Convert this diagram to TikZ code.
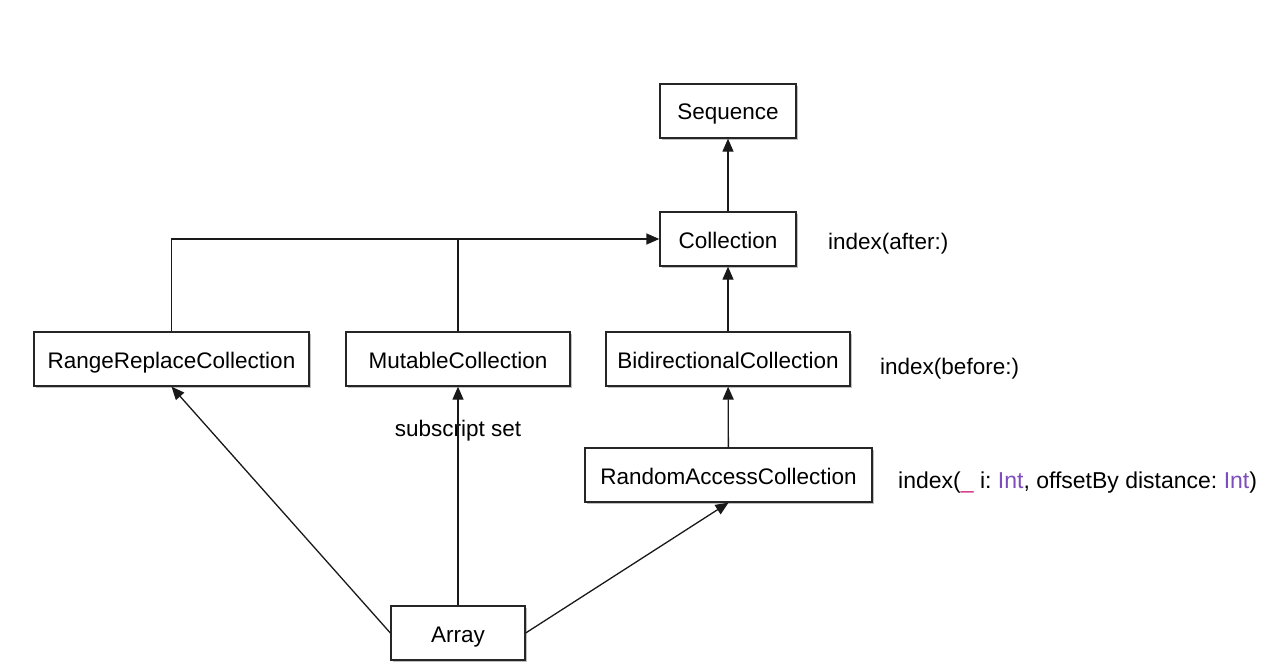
\documentclass[tikz,border=0pt]{standalone}
\usepackage{fontspec}
\setmainfont{Liberation Sans}
\usetikzlibrary{arrows.meta,shadows}
\definecolor{kwpink}{HTML}{D12F7F}
\definecolor{typurple}{HTML}{7D4CBD}
\begin{document}
\begin{tikzpicture}[x=1pt,y=-1pt,
  box/.style={draw=black!85, line width=1.3pt, fill=white, minimum height=54pt, inner sep=0pt,
    font=\fontsize{22.5}{26}\selectfont, text height=18pt, text depth=0pt,
    drop shadow={shadow xshift=1.5pt, shadow yshift=-2pt, opacity=0.25, fill=black}},
  conn/.style={draw=black!90, line width=1.3pt},
  arr/.style={conn, -{Triangle[length=13pt,width=11pt]}},
  lbl/.style={font=\fontsize{22.5}{26}\selectfont, inner sep=0pt, anchor=base west}]
\useasboundingbox (0,0) rectangle (1281,666);
\node[box, minimum width=136pt] (seq) at (728,111) {Sequence};
\node[box, minimum width=136pt] (coll) at (728,239) {Collection};
\node[box, minimum width=275pt] (rr) at (171.5,359) {RangeReplaceCollection};
\node[box, minimum width=224pt] (mut) at (458,359) {MutableCollection};
\node[box, minimum width=244pt] (bid) at (728,359) {BidirectionalCollection};
\node[box, minimum width=287pt] (ra) at (728.5,475) {RandomAccessCollection};
\node[box, minimum width=134pt] (arr) at (458,633) {Array};

\node[lbl] (lafter) at (828,249) {index(after:)};
\node[lbl] (lbefore) at (880,374) {index(before:)};
\node[lbl, anchor=base] (lsub) at (458,436) {subscript set};
\node[lbl, font=\fontsize{23}{26}\selectfont] (loff) at (898,488.5) {index(\textcolor{kwpink}{\_}~i:~\textcolor{typurple}{Int}, offsetBy distance:~\textcolor{typurple}{Int})};

\draw[arr] (coll) -- (seq);
\draw[arr] (bid) -- (coll);
\draw[arr] (ra) -- (bid);
\draw[arr] (rr.north) |- (coll.west);
\draw[conn] (mut.north) -- (mut.north |- coll.west);
\draw[arr] (arr.north) -- (mut.south);
\draw[arr] (arr.west) -- (rr.south);
\draw[arr] (arr.east) -- (ra.south);
\end{tikzpicture}
\end{document}
